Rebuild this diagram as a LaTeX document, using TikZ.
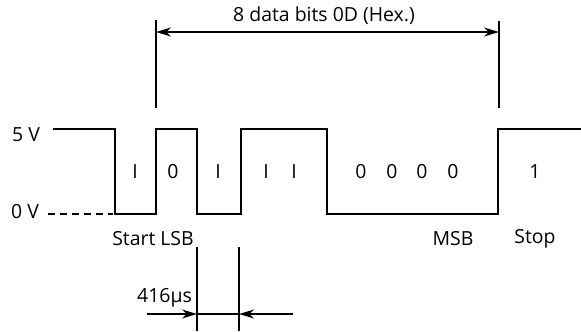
\documentclass[tikz,border=0pt]{standalone}
\usepackage{fontspec}
\setmainfont{Open Sans}
\usetikzlibrary{arrows.meta}
\tikzset{
  signal/.style={black, line width=1.6pt, line join=miter},
  level/.style={black, line width=1.2pt, dash pattern=on 7bp off 5bp},
  guide/.style={black, line width=1.2pt},
  span/.style={{Stealth[length=15bp,width=9bp]}-{Stealth[length=15bp,width=9bp]}, line width=1.4pt},
  tick/.style={-{Stealth[length=15bp,width=9bp]}, line width=1.4pt},
  lab/.style={font=\fontsize{19.5}{22}\selectfont, inner sep=0pt},
  bitlab/.style={lab},
}

\begin{document}
\begin{tikzpicture}[x=1bp,y=-1bp]
  \path[use as bounding box] (0,0) rectangle (581,331);

  % Levels.
  \node[lab] (HI) at (26,135) {5 V};
  \node[lab] (LO) at (25,212) {0 V};
  \draw[level] (48,214) -- (113,214);

  % Signal trace.
  \draw[signal] (53,129) -- (115,129) -- (115,214) -- (156,214)
    -- (156,129) -- (197,129) -- (197,214) -- (241,214)
    -- (241,129) -- (327,129) -- (327,214) -- (498,214)
    -- (498,129) -- (581,129);

  % Bit values.
  \node[bitlab] (B0) at (135,172) {I};
  \node[bitlab] (B1) at (173,172) {0};
  \node[bitlab] (B2) at (218,172) {I};
  \node[bitlab] (B3) at (266,172) {I};
  \node[bitlab] (B4) at (294,172) {I};
  \node[bitlab] (B5) at (361,172) {0};
  \node[bitlab] (B6) at (392,172) {0};
  \node[bitlab] (B7) at (422,172) {0};
  \node[bitlab] (B8) at (453,172) {0};
  \node[bitlab] (B9) at (535,172) {1};

  \node[lab] (START) at (153,239) {Start LSB};
  \node[lab] (MSB) at (453,239) {MSB};
  \node[lab] (STOP) at (535,239) {Stop};

  % Data bits span.
  \coordinate (DL) at (156,20);
  \coordinate (DLb) at (156,108);
  \coordinate (DR) at (499,21);
  \coordinate (DRb) at (499,108);
  \draw[guide] (DL) -- (DLb);
  \draw[guide] (DR) -- (DRb);
  \node[lab] (DATA) at (324,16) {8 data bits 0D (Hex.)};
  \coordinate (SL) at (156,32);
  \coordinate (SR) at (499,32);
  \draw[span] (SL) -- (SR);

  % One bit time.
  \coordinate (TL) at (197,247);
  \coordinate (TLb) at (197,331);
  \coordinate (TR) at (239,247);
  \coordinate (TRb) at (239,331);
  \draw[guide] (TL) -- (TLb);
  \draw[guide] (TR) -- (TRb);
  \node[lab, anchor=east] (BIT) at (192,298) {416µs};
  \coordinate (AL) at (147,314);
  \coordinate (AR) at (293,314);
  \coordinate (ML) at (197,314);
  \coordinate (MR) at (239,314);
  \draw[line width=1.2pt] (ML) -- (MR);
  \draw[tick] (AL) -- (ML);
  \draw[tick] (AR) -- (MR);
\end{tikzpicture}
\end{document}
